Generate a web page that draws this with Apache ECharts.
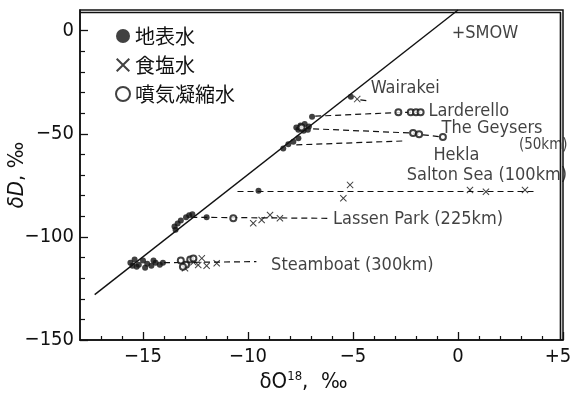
<!DOCTYPE html>
<html><head><meta charset="utf-8">
<script src="https://cdn.jsdelivr.net/npm/echarts@6/dist/echarts.min.js"></script>
<style>html,body{margin:0;padding:0;background:#fff}#c{width:572px;height:404px}</style>
</head><body><div id="c"></div>
<script>
// ticks
const xMajorTicks = [-15, -10, -5, 0, 5];
const xMinorTicks = [-17, -16, -14, -13, -12, -11, -9, -8, -7, -6, -4, -3, -2, -1, 1, 2, 3, 4];
const yMajorTicks = [-150, -100, -50, 0];
const yMinorTicks = [-140, -130, -120, -110, -90, -80, -70, -60, -40, -30, -20, -10];
const xRange = [-18, 5];
const yRange = [-150, 10];
// frame edges, a little inside the plotting rectangle so they are not clipped
const frameTop = 8.8;
const frameRight = 4.88;

// meteoric water line (read endpoints)
const meteoricLine = [[-17.3, -128], [0, 10]];

// 地表水 (filled circles)
const surfaceWater = [
  [-5.1, -32],
  [-6.95, -41.7],
  [-7.5, -46], [-7.3, -45.3], [-7.1, -46.5], [-7.6, -48], [-7.35, -48.6], [-7.7, -47], [-7.15, -48],
  [-7.6, -52.2], [-7.84, -53.9], [-8.08, -55.1], [-8.32, -57.1],
  [-9.5, -77.6],
  [-13.5, -95], [-13.35, -93.5], [-13.2, -92], [-12.95, -90.5], [-12.8, -89.5], [-12.65, -89], [-13.45, -96.5],
  [-11.97, -90.5],
  [-15.6, -112.5], [-15.4, -111], [-15.2, -113.5], [-15.0, -111.5], [-14.8, -113], [-14.6, -114],
  [-14.4, -112.5], [-14.2, -113.5], [-15.3, -114.5], [-14.9, -115], [-14.5, -111.5], [-15.5, -114], [-14.05, -112.5]
];

// 食塩水 (crosses)
const salineWater = [
  [-4.8, -33.2],
  [-5.14, -74.8], [-5.46, -81.3], [0.57, -77.3], [1.33, -78.1], [3.19, -77.3],
  [-9.75, -93.4], [-9.35, -91.8], [-8.95, -89.4], [-8.48, -91],
  [-13.0, -115.2], [-12.6, -112.3], [-12.37, -113.6], [-12.2, -110.4], [-11.97, -114], [-11.49, -112.8]
];

// 噴気凝縮水 (open circles)
const fumaroleCondensate = [
  [-2.84, -39.6], [-2.25, -39.6], [-2.0, -39.6], [-1.78, -39.6],
  [-7.45, -47],
  [-2.14, -49.6], [-1.85, -50.3], [-0.72, -51.6],
  [-10.7, -91],
  [-13.2, -111.5], [-12.95, -113.5], [-12.75, -111], [-13.1, -114.5], [-12.6, -110.5]
];

// dashed tie lines
const wairakeiLine = [[-4.65, -33.6], [-4.3, -34]];
const larderelloLine = [[-6.8, -41.5], [-2.84, -39.7], [-1.78, -39.6]];
const geysersLine = [[-6.9, -47.6], [-2.14, -49.7], [-1.85, -50.3], [-0.72, -51.6]];
const heklaLine = [[-7.7, -55.4], [-2.6, -53.5]];
const saltonLine = [[-10.5, -78], [3.75, -78]];
const lassenLine = [[-12.7, -90.5], [-6.2, -91]];
const steamboatLine = [[-14.0, -112.5], [-9.6, -112]];

// field labels
const fieldNames = ['Wairakei', 'Larderello', 'The Geysers', '(50km)', 'Hekla', 'Salton Sea (100km)', 'Lassen Park (225km)', 'Steamboat (300km)', '+SMOW'];
const fieldLabelPos = [[-4.16, -28], [-1.41, -39.3], [-0.78, -47.4], [2.9, -55.5], [-1.17, -60.3], [-2.44, -70], [-5.95, -91.3], [-8.9, -113.6], [-0.3, -1.2]];
const fieldLabelSize = [18, 18, 18, 15, 18, 18, 18, 18, 18];

const INK = '#111';
const NARROW = "'Liberation Sans Narrow', 'DejaVu Sans Condensed', sans-serif";
const CROSS = 'path://M0,1L1,0L5,4L9,0L10,1L6,5L10,9L9,10L5,6L1,10L0,9L4,5Z';

function fmt(v) {
  if (v > 0) return '{r|+' + v + '}';
  if (v < 0) return '\u2212' + Math.abs(v);
  return '0';
}

function tie(data) {
  return {
    type: 'line', data: data, symbol: 'none', silent: true, z: 2,
    lineStyle: { color: INK, width: 1.2, type: [6, 4] }
  };
}

const chart = echarts.init(document.getElementById('c'), null, { renderer: 'canvas' });
chart.setOption({
  animation: false,
  backgroundColor: '#fff',
  grid: { left: 80, top: 10, right: 9, bottom: 64, outerBoundsMode: 'none',
    show: true, borderColor: INK, borderWidth: 1.5, backgroundColor: 'rgba(0,0,0,0)' },
  legend: {
    data: ['地表水', '食塩水', '噴気凝縮水'],
    orient: 'vertical', left: 110, top: 21, itemGap: 9,
    itemWidth: 14, itemHeight: 14,
    textStyle: { fontSize: 20, color: INK, fontFamily: "'Noto Sans CJK JP', sans-serif" }
  },
  xAxis: [{
    type: 'value', min: xRange[0], max: xRange[1], position: 'bottom',
    axisLine: { show: true, onZero: false, lineStyle: { color: INK, width: 1.5 } },
    axisTick: { show: true, inside: true, length: 8, customValues: xMajorTicks, lineStyle: { color: INK, width: 1.3 } },
    axisLabel: { show: true, customValues: xMajorTicks, formatter: fmt, margin: 7, fontSize: 20, color: INK, fontFamily: NARROW,
      rich: { r: { fontSize: 20, color: INK, fontFamily: NARROW, padding: [0, 10, 0, 0] } } },
    splitLine: { show: false },
    name: '{a|δO}{s|18}{a|,  ‰}', nameLocation: 'middle', nameGap: 30, nameMoveOverlap: false,
    nameTextStyle: { padding: [0, 36, 0, 0], rich: {
      a: { fontSize: 22, color: INK, fontFamily: NARROW },
      s: { fontSize: 13, color: INK, fontFamily: NARROW, verticalAlign: 'top', padding: [0, 0, 12, 0] }
    } }
  }, {
    type: 'value', min: xRange[0], max: xRange[1], position: 'bottom',
    axisLine: { show: false, onZero: false },
    axisTick: { show: true, inside: true, length: 4, customValues: xMinorTicks, lineStyle: { color: INK, width: 1.2 } },
    axisLabel: { show: false },
    splitLine: { show: false }
  }],
  yAxis: [{
    type: 'value', min: yRange[0], max: yRange[1], position: 'left',
    axisLine: { show: true, onZero: false, lineStyle: { color: INK, width: 1.5 } },
    axisTick: { show: true, inside: true, length: 8, customValues: yMajorTicks, lineStyle: { color: INK, width: 1.3 } },
    axisLabel: { show: true, customValues: yMajorTicks, formatter: fmt, margin: 6, fontSize: 20, color: INK, fontFamily: NARROW },
    splitLine: { show: false },
    name: '{i|δD}{a|, ‰}', nameLocation: 'middle', nameGap: 52, nameRotate: 90, nameMoveOverlap: false,
    nameTextStyle: { rich: {
      i: { fontSize: 22, color: INK, fontFamily: NARROW, fontStyle: 'italic' },
      a: { fontSize: 22, color: INK, fontFamily: NARROW }
    } }
  }, {
    type: 'value', min: yRange[0], max: yRange[1], position: 'left',
    axisLine: { show: false, onZero: false },
    axisTick: { show: true, inside: true, length: 5, customValues: yMinorTicks, lineStyle: { color: INK, width: 1.2 } },
    axisLabel: { show: false },
    splitLine: { show: false }
  }],
  series: [
    // plot frame (top and right edges), through the axes' own scales
    { type: 'line', data: [[xRange[0], frameTop], [frameRight, frameTop], [frameRight, yRange[0]]],
      symbol: 'none', silent: true, clip: false, z: 10, lineStyle: { color: INK, width: 1.6, type: 'solid' } },
    { type: 'line', data: meteoricLine, symbol: 'none', silent: true, z: 2, lineStyle: { color: INK, width: 1.4 } },
    tie(wairakeiLine), tie(larderelloLine), tie(geysersLine), tie(heklaLine),
    tie(saltonLine), tie(lassenLine), tie(steamboatLine),
    { name: '地表水', type: 'scatter', data: surfaceWater, symbol: 'circle', symbolSize: 6, z: 4,
      itemStyle: { color: INK } },
    { name: '食塩水', type: 'scatter', data: salineWater, symbol: CROSS, symbolSize: 7, z: 4,
      itemStyle: { color: INK } },
    { name: '噴気凝縮水', type: 'scatter', data: fumaroleCondensate, symbol: 'emptyCircle', symbolSize: 6, z: 5,
      itemStyle: { color: INK, borderWidth: 1.1 } },
    { type: 'scatter', silent: true, symbolSize: 0, z: 6,
      data: fieldNames.map((n, i) => ({ name: n, value: fieldLabelPos[i], label: { fontSize: fieldLabelSize[i] } })),
      label: { show: true, position: 'right', distance: 0, formatter: '{b}', fontSize: 18, color: INK, fontFamily: NARROW } }
  ]
});
</script></body></html>
